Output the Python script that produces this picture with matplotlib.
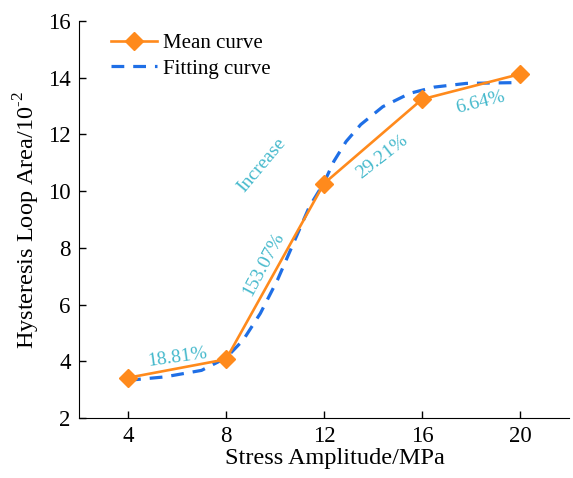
import numpy as np
import matplotlib
matplotlib.use('Agg')
import matplotlib.pyplot as plt

plt.rcParams['font.family'] = ['Liberation Serif', 'DejaVu Serif']
plt.rcParams['mathtext.fontset'] = 'custom'
plt.rcParams['mathtext.rm'] = 'Liberation Serif'

# mean curve
stress = [4, 8, 12, 16, 20]
mean_area = [3.42, 4.07, 10.27, 13.24, 14.13]

# fitting curve
fit_x = [4, 5.5, 7, 8, 8.7, 9.4, 10.1, 10.75, 11.4, 12, 12.4, 12.9,
         13.5, 14.4, 15.5, 16.5, 17.8, 19.2, 20]
fit_y = [3.33, 3.45, 3.68, 4.12, 4.75, 5.69, 6.87, 8.16, 9.45, 10.3,
         11.05, 11.75, 12.35, 12.98, 13.45, 13.67, 13.8, 13.82, 13.83]

# percentage labels: text, x, y, angle
notes = ['18.81%', '153.07%', 'Increase', '29.21%', '6.64%']
note_x = [6.0, 9.53, 9.47, 14.37, 18.37]
note_y = [4.15, 7.43, 10.92, 11.2, 13.14]
note_rot = [8, 62, 50, 38, 14]

orange = '#ff8a1c'
blue = '#1f6fe6'
cyan = '#45b9cc'

fig = plt.figure(figsize=(5.73, 4.78), dpi=100)
ax = fig.add_axes([0.138, 0.1255, 0.855, 0.8305])

ax.plot(stress, mean_area, color=orange, lw=1.9, marker='D', ms=9.5,
        label='Mean curve', zorder=3)
ax.plot(fit_x, fit_y, color=blue, lw=2.3, dashes=(4, 2.8),
        label='Fitting curve', zorder=2)

for t, x, y, r in zip(notes, note_x, note_y, note_rot):
    ax.text(x, y, t, color=cyan, fontsize=14, rotation=r,
            ha='center', va='center', rotation_mode='anchor')

ax.set_xlim(2, 22)
ax.set_ylim(2, 16)
ax.set_xticks(stress)
ax.set_yticks(range(2, 17, 2))
ax.tick_params(direction='in', labelsize=16.5, length=5, width=1, pad=6)
ax.spines['top'].set_visible(False)
ax.spines['right'].set_visible(False)
ax.set_xlabel('Stress Amplitude/MPa', fontsize=17.5)
ax.xaxis.set_label_coords(0.522, -0.076)
ax.set_ylabel(r'Hysteresis Loop Area/10$^{\text{-2}}$', fontsize=17.5, labelpad=4)

ax.legend(loc='upper left', frameon=False, fontsize=15,
          bbox_to_anchor=(0.048, 0.99), borderaxespad=0, handlelength=2.2,
          handletextpad=0.3, labelspacing=0.3)

fig.savefig('out.png', dpi=100)
